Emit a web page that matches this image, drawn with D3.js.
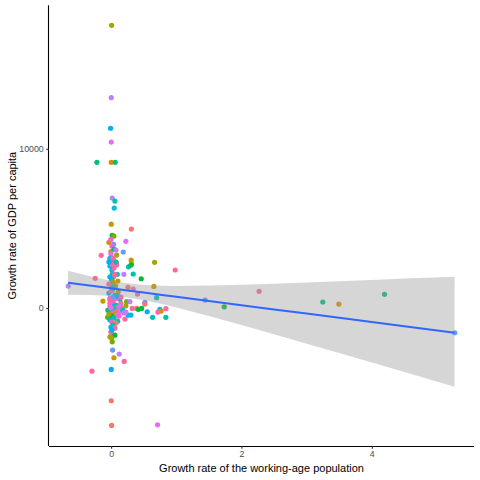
<!DOCTYPE html>
<html>
<head>
<meta charset="utf-8">
<script src="https://cdn.jsdelivr.net/npm/d3@7"></script>
<style>
  body { margin: 0; background: #fff; }
  text { font-family: "Liberation Sans", Arial, sans-serif; }
</style>
</head>
<body>
<div id="chart"></div>
<script>
// ggplot hue palette, one colour per group
const groupColours = ["#F8766D", "#E58700", "#C99800", "#A3A500", "#6BB100",
    "#00BA38", "#00BF7D", "#00C0AF", "#00BCD8", "#00B0F6",
    "#619CFF", "#B983FF", "#E76BF3", "#FD61D1", "#FF67A4"];

// [growth of working-age population, growth of GDP per capita, group]
const obs = [
    [0.008, 17750, 3], [0.002, 13210, 11], [-0.008, 11290, 9], [0.002, 10420, 12],
    [-0.218, 9150, 6], [0.002, 9150, 1], [0.063, 9150, 6], [0.017, 6910, 11],
    [0.058, 6720, 7], [0.048, 6280, 8], [0.002, 5270, 2], [0.311, 4960, 0],
    [0.017, 4570, 5], [0.043, 4520, 4], [-0.034, 4130, 2], [-0.003, 4310, 13],
    [0.038, 4000, 10], [0.227, 4190, 12], [-0.003, 3540, 2], [0.084, 3330, 3],
    [0.186, 3520, 10], [-0.152, 3310, 14], [-0.003, 3390, 12], [-0.018, 3120, 8],
    [-0.018, 2950, 9], [0.038, 3010, 7], [0.084, 2830, 0], [0.308, 3010, 2],
    [0.314, 2760, 3], [0.667, 2870, 3], [0.268, 2590, 7], [0.304, 2700, 5],
    [0.983, 2390, 14], [0.084, 2700, 14], [-0.244, 1870, 14], [-0.658, 1380, 11],
    [0.017, 2120, 7], [0.094, 2120, 7], [0.058, 2120, 14], [0.038, 1950, 14],
    [0.196, 2120, 11], [0.339, 2140, 7], [0.462, 1840, 5], [0.656, 1360, 2],
    [0.258, 1300, 0], [0.339, 1190, 14], [0.406, 880, 14], [0.698, 650, 7],
    [1.443, 500, 10], [1.735, 80, 5], [-0.126, 440, 2], [0.518, 360, 10],
    [0.518, 250, 0], [0.468, -20, 5], [0.554, -230, 9], [0.636, -580, 7],
    [0.748, -80, 9], [0.768, -190, 2], [0.718, -250, 14], [0.840, -40, 14],
    [0.840, -580, 7], [-0.054, -580, 4], [0.100, -820, 7], [0.212, -690, 14],
    [0.262, -440, 9], [0.304, -440, 8], [0.008, 1800, 7], [0.032, 1550, 3],
    [0.008, 1440, 8], [0.069, 1380, 3], [0.017, 1130, 8], [0.109, 1020, 2],
    [0.058, 820, 7], [-0.018, 610, 14], [0.135, 550, 7], [-0.018, 500, 14],
    [0.032, 440, 14], [0.084, 610, 13], [0.150, 300, 14], [0.238, 400, 4],
    [0.288, 400, 11], [0.227, 140, 3], [0.391, -20, 0], [0.416, -80, 5],
    [0.324, -20, 14], [-0.003, -1490, 14], [0.008, -1630, 14], [0.058, -1700, 5],
    [-0.018, -1800, 3], [0.008, -1900, 3], [0.017, -2120, 4], [0.023, -2640, 10],
    [0.124, -2890, 11], [0.043, -3120, 2], [0.201, -3350, 14], [0.002, -3850, 9],
    [-0.294, -3960, 14], [0.002, -5820, 0], [0.008, -7370, 0], [0.713, -7330, 12],
    [2.271, 1050, 14], [3.248, 380, 6], [3.494, 250, 1], [4.195, 860, 6],
    [5.273, -1550, 10],
    [-0.018, 310, 14], [0.012, 250, 13], [0.043, 130, 9], [0.074, 190, 7],
    [0.104, 60, 14], [0.135, 130, 11], [0.166, 0, 13], [0.028, -60, 14],
    [0.058, -130, 8], [0.089, -190, 0], [0.120, -250, 14], [0.150, -190, 11],
    [0.181, -130, 7], [-0.003, -250, 9], [0.028, -310, 14], [0.058, -380, 2],
    [0.089, -440, 12], [0.120, -500, 13], [0.012, -500, 5], [0.043, -630, 7],
    [-0.018, -750, 9], [0.012, -880, 14], [0.074, -940, 0], [0.028, -1070, 7],
    [-0.003, -1190, 8], [0.058, -1260, 14], [0.012, -1380, 9], [-0.018, 130, 13],
    [0.196, -310, 12], [0.227, -250, 11], [-0.049, -130, 6], [-0.034, -380, 3],
    [-0.003, 0, 12], [0.028, 690, 10], [0.104, 750, 9], [0.150, 690, 14],
    [-0.034, 940, 9], [-0.003, 1070, 14], [0.028, 1260, 9], [-0.034, 1510, 14],
    [0.028, 1630, 3], [0.104, 1700, 2], [-0.018, 1950, 9], [0.012, 2390, 8],
    [0.043, 2510, 14], [-0.018, 2640, 9], [0.012, 2760, 14], [0.074, 2890, 7],
    [-0.034, 2890, 9], [0.028, 3140, 14], [0.012, 3890, 13], [0.043, 3700, 6],
    [0.074, 3640, 11]
];

// linear fit and its confidence band
const fitX    = [-0.66, -0.3, 0, 0.25, 0.5, 0.75, 1, 1.5, 2, 2.5, 3, 3.5, 4, 4.5, 5.27];
const fitY    = [1590, 1399, 1240, 1110, 975, 843, 710, 446, 180, -83, -347, -612, -876, -1141, -1548];
const bandLow = [836, 821, 763, 664, 498, 286, 38, -502, -1070, -1648, -2237, -2824, -3419, -4011, -4939];
const bandHigh = [2344, 1977, 1717, 1556, 1452, 1400, 1390, 1410, 1460, 1530, 1610, 1690, 1770, 1850, 1960];

const xTicks = [0, 2, 4];
const yTicks = [0, 10000];

const width = 480, height = 480;
const margin = {top: 5.3, right: 6, bottom: 34, left: 49};
const innerW = width - margin.left - margin.right;
const innerH = height - margin.top - margin.bottom;

const svg = d3.select("#chart")
    .append("svg")
    .attr("width", width)
    .attr("height", height)
    .append("g")
    .attr("transform", `translate(${margin.left},${margin.top})`);

const x = d3.scaleLinear().domain([-0.953, 5.568]).range([0, innerW]);
const y = d3.scaleLinear().domain([-8660, 19010]).range([innerH, 0]);

// points
svg.append("g")
    .selectAll("circle")
    .data(obs)
    .join("circle")
    .attr("cx", d => x(d[0]))
    .attr("cy", d => y(d[1]))
    .attr("r", 2.6)
    .attr("fill", d => groupColours[d[2]]);

// confidence band
const fit = fitX.map((v, i) => ({x: v, y: fitY[i], lo: bandLow[i], hi: bandHigh[i]}));
svg.append("path")
    .datum(fit)
    .attr("fill", "#999999")
    .attr("fill-opacity", 0.4)
    .attr("d", d3.area().x(d => x(d.x)).y0(d => y(d.lo)).y1(d => y(d.hi)));

svg.append("path")
    .datum(fit)
    .attr("fill", "none")
    .attr("stroke", "#3366FF")
    .attr("stroke-width", 2)
    .attr("d", d3.line().x(d => x(d.x)).y(d => y(d.y)));

// axes
const xAxis = svg.append("g")
    .attr("transform", `translate(0,${innerH})`)
    .call(d3.axisBottom(x).tickValues(xTicks).tickSize(2.75).tickPadding(2.5).tickFormat(d3.format("d")));
const yAxis = svg.append("g")
    .call(d3.axisLeft(y).tickValues(yTicks).tickSize(2.75).tickPadding(2.5).tickFormat(d3.format("d")));

[xAxis, yAxis].forEach(a => {
    a.select(".domain").attr("stroke", "#000").attr("stroke-width", 1.1);
    a.selectAll(".tick line").attr("stroke", "#333").attr("stroke-width", 1.1);
    a.selectAll(".tick text")
        .attr("fill", "#4D4D4D")
        .style("font-size", "8.8px")
        .style("font-family", "'Liberation Sans', Arial, sans-serif");
});
xAxis.select(".domain").attr("d", `M0,0.5H${innerW}`);
yAxis.select(".domain").attr("d", `M-0.5,0V${innerH}`);

// titles
svg.append("text")
    .attr("x", innerW / 2)
    .attr("y", innerH + 26)
    .attr("text-anchor", "middle")
    .style("font-size", "11px")
    .text("Growth rate of the working-age population");

svg.append("text")
    .attr("transform", `translate(${-33},${innerH / 2}) rotate(-90)`)
    .attr("text-anchor", "middle")
    .style("font-size", "11px")
    .text("Growth rate of GDP per capita");
</script>
</body>
</html>
